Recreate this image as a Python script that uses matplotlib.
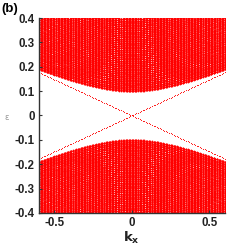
import numpy as np
import matplotlib
matplotlib.use("Agg")
import matplotlib.pyplot as plt

# k grid and edge state
k_min, k_max, k_step = -0.6, 0.6, 0.01
edge_velocity = 0.295

# bulk subbands, family A (steep): gap at k=0 and velocity
gap_a = [0.100, 0.108, 0.115, 0.123, 0.130, 0.138, 0.145, 0.153, 0.160, 0.168,
         0.175, 0.183, 0.190, 0.198, 0.205, 0.213, 0.220, 0.228, 0.235, 0.243,
         0.250, 0.258, 0.265, 0.273, 0.280, 0.288, 0.295, 0.303, 0.310, 0.318,
         0.325, 0.333, 0.340, 0.348, 0.355, 0.363, 0.370, 0.378, 0.385, 0.393,
         0.400]
vel_a = [0.270, 0.282, 0.294, 0.306, 0.318, 0.330, 0.342, 0.354, 0.366, 0.378,
         0.390, 0.402, 0.414, 0.426, 0.438, 0.450, 0.462, 0.474, 0.486, 0.498,
         0.510, 0.522, 0.534, 0.546, 0.558, 0.570, 0.582, 0.594, 0.606, 0.618,
         0.630, 0.642, 0.654, 0.666, 0.678, 0.690, 0.702, 0.714, 0.726, 0.738,
         0.750]
# family B (flat): fills the bulk
gap_b = [0.104, 0.112, 0.119, 0.127, 0.134, 0.142, 0.149, 0.157, 0.164, 0.172,
         0.179, 0.187, 0.194, 0.202, 0.209, 0.217, 0.224, 0.232, 0.239, 0.247,
         0.254, 0.262, 0.269, 0.277, 0.284, 0.292, 0.299, 0.307, 0.314, 0.322,
         0.329, 0.337, 0.344, 0.352, 0.359, 0.367, 0.374, 0.382, 0.389, 0.397]
vel_b = [0.268, 0.271, 0.274, 0.277, 0.280, 0.283, 0.286, 0.289, 0.292, 0.295,
         0.298, 0.301, 0.304, 0.307, 0.310, 0.313, 0.316, 0.319, 0.322, 0.325,
         0.328, 0.331, 0.334, 0.337, 0.340, 0.343, 0.346, 0.349, 0.352, 0.355,
         0.358, 0.361, 0.364, 0.367, 0.370, 0.373, 0.376, 0.379, 0.382, 0.385]
# family C (medium): fills between A and B
gap_c = [0.102, 0.110, 0.117, 0.125, 0.132, 0.140, 0.147, 0.155, 0.162, 0.170,
         0.177, 0.185, 0.192, 0.200, 0.207, 0.215, 0.222, 0.230, 0.237, 0.245,
         0.252, 0.260, 0.267, 0.275, 0.282, 0.290, 0.297, 0.305, 0.312, 0.320,
         0.327, 0.335, 0.342, 0.350, 0.357, 0.365, 0.372, 0.380, 0.387, 0.395]
vel_c = [0.269, 0.276, 0.283, 0.290, 0.297, 0.304, 0.311, 0.318, 0.325, 0.332,
         0.339, 0.346, 0.353, 0.360, 0.367, 0.374, 0.381, 0.388, 0.395, 0.402,
         0.409, 0.416, 0.423, 0.430, 0.437, 0.444, 0.451, 0.458, 0.465, 0.472,
         0.479, 0.486, 0.493, 0.500, 0.507, 0.514, 0.521, 0.528, 0.535, 0.542]

x_ticks = [-0.5, 0, 0.5]
x_labels = ["-0.5", "0", "0.5"]
y_ticks = [-0.4, -0.3, -0.2, -0.1, 0, 0.1, 0.2, 0.3, 0.4]
y_labels = ["-0.4", "-0.3", "-0.2", "-0.1", "0", "0.1", "0.2", "0.3", "0.4"]


def main():

    k = np.arange(k_min, k_max + k_step / 2, k_step)

    fig = plt.figure(figsize=(2.49, 2.49), dpi=100)
    ax = fig.add_axes([0.1566, 0.1446, 0.7458, 0.7831])

    kk, ee = [], []
    families = [(gap_a, vel_a), (gap_b, vel_b), (gap_c, vel_c)]
    for gaps, vels in families:
        for g, v in zip(gaps, vels):
            e = np.sqrt(g ** 2 + (v * k) ** 2)
            kk.extend([k, k])
            ee.extend([e, -e])

    kk = np.concatenate(kk)
    ee = np.concatenate(ee)
    ax.scatter(kk, ee, s=1.7, marker="o", color="#ff0000",
               linewidths=0, clip_on=True)

    # edge states
    ax.scatter(np.concatenate([k, k]),
               np.concatenate([edge_velocity * k, -edge_velocity * k]),
               s=0.6, marker="o", color="#ff0000", linewidths=0)

    ax.set_xlim(k_min, k_max)
    ax.set_ylim(-0.4, 0.4)
    ax.set_xticks(x_ticks)
    ax.set_xticklabels(x_labels)
    ax.set_yticks(y_ticks)
    ax.set_yticklabels(y_labels)

    for side in ["top", "right"]:
        ax.spines[side].set_visible(False)
    for side in ["left", "bottom"]:
        ax.spines[side].set_color("#333333")
        ax.spines[side].set_linewidth(1.0)

    ax.tick_params(direction="in", length=2.5, width=0.8, color="#333333",
                   pad=3)
    for lab in ax.get_xticklabels() + ax.get_yticklabels():
        lab.set_fontfamily("Liberation Sans")
        lab.set_fontweight("bold")
        lab.set_fontsize(8.3)
        lab.set_color("#222222")

    fig.text(0.004, 0.965, "(b)", fontsize=9.5, fontweight="bold",
             family="Liberation Sans", va="center", ha="left")
    fig.text(0.028, 0.53, "\u03b5", fontsize=6, color="#999999",
             va="center", ha="center")
    fig.text(0.527, 0.045, r"$\mathbf{k_x}$", fontsize=9.5,
             va="center", ha="center", color="#222222")

    fig.savefig("out.png", dpi=100)


if __name__ == "__main__":
    main()
